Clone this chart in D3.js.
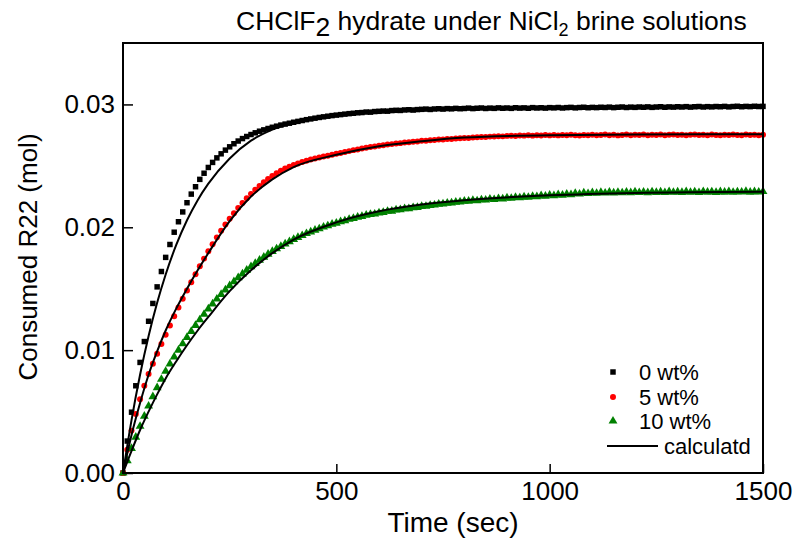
<!DOCTYPE html>
<html>
<head>
<meta charset="utf-8">
<script src="https://cdn.jsdelivr.net/npm/d3@7"></script>
<style>
  body { margin: 0; background: #fff; }
  svg text { font-family: "Liberation Sans", Arial, sans-serif; fill: #000; }
</style>
</head>
<body>
<svg class="chart"></svg>
<script>
var width = 800;
var height = 545;

// measured time (sec)
var time = [
  0, 10, 20, 30, 40, 50, 60, 70, 80, 90,
  100, 110, 120, 130, 140, 150, 160, 170, 180, 190,
  200, 210, 220, 230, 240, 250, 260, 270, 280, 290,
  300, 310, 320, 330, 340, 350, 360, 370, 380, 390,
  400, 410, 420, 430, 440, 450, 460, 470, 480, 490,
  500, 510, 520, 530, 540, 550, 560, 570, 580, 590,
  600, 610, 620, 630, 640, 650, 660, 670, 680, 690,
  700, 710, 720, 730, 740, 750, 760, 770, 780, 790,
  800, 810, 820, 830, 840, 850, 860, 870, 880, 890,
  900, 910, 920, 930, 940, 950, 960, 970, 980, 990,
  1000, 1010, 1020, 1030, 1040, 1050, 1060, 1070, 1080, 1090,
  1100, 1110, 1120, 1130, 1140, 1150, 1160, 1170, 1180, 1190,
  1200, 1210, 1220, 1230, 1240, 1250, 1260, 1270, 1280, 1290,
  1300, 1310, 1320, 1330, 1340, 1350, 1360, 1370, 1380, 1390,
  1400, 1410, 1420, 1430, 1440, 1450, 1460, 1470, 1480, 1490,
  1500
];

// 0 wt%
var wt0 = [
  0.00000, 0.00260, 0.00495, 0.00710, 0.00900, 0.01070, 0.01235, 0.01380, 0.01515, 0.01640,
  0.01755, 0.01860, 0.01960, 0.02045, 0.02125, 0.02200, 0.02270, 0.02330, 0.02390, 0.02440,
  0.02487, 0.02528, 0.02565, 0.02598, 0.02628, 0.02655, 0.02680, 0.02702, 0.02722, 0.02739,
  0.02755, 0.02769, 0.02782, 0.02793, 0.02804, 0.02814, 0.02823, 0.02832, 0.02840, 0.02847,
  0.02855, 0.02862, 0.02869, 0.02876, 0.02882, 0.02888, 0.02894, 0.02899, 0.02904, 0.02909,
  0.02913, 0.02917, 0.02921, 0.02925, 0.02928, 0.02932, 0.02934, 0.02938, 0.02937, 0.02942,
  0.02944, 0.02946, 0.02945, 0.02950, 0.02952, 0.02951, 0.02955, 0.02957, 0.02954, 0.02958,
  0.02960, 0.02962, 0.02959, 0.02963, 0.02965, 0.02962, 0.02966, 0.02964, 0.02968, 0.02965,
  0.02967, 0.02970, 0.02966, 0.02969, 0.02971, 0.02967, 0.02970, 0.02968, 0.02972, 0.02969,
  0.02971, 0.02968, 0.02973, 0.02970, 0.02972, 0.02969, 0.02974, 0.02971, 0.02973, 0.02970,
  0.02974, 0.02972, 0.02975, 0.02971, 0.02974, 0.02976, 0.02972, 0.02975, 0.02977, 0.02973,
  0.02976, 0.02974, 0.02977, 0.02975, 0.02978, 0.02974, 0.02977, 0.02979, 0.02975, 0.02978,
  0.02976, 0.02979, 0.02977, 0.02980, 0.02976, 0.02979, 0.02981, 0.02977, 0.02980, 0.02978,
  0.02981, 0.02979, 0.02982, 0.02978, 0.02981, 0.02983, 0.02979, 0.02982, 0.02980, 0.02983,
  0.02981, 0.02984, 0.02980, 0.02983, 0.02985, 0.02981, 0.02984, 0.02982, 0.02985, 0.02983,
  0.02984
];

// 5 wt%
var wt5 = [
  0.00000, 0.00190, 0.00345, 0.00480, 0.00600, 0.00710, 0.00805, 0.00890, 0.00970, 0.01050,
  0.01125, 0.01200, 0.01275, 0.01347, 0.01418, 0.01486, 0.01552, 0.01618, 0.01682, 0.01745,
  0.01805, 0.01862, 0.01918, 0.01972, 0.02022, 0.02070, 0.02115, 0.02158, 0.02198, 0.02236,
  0.02272, 0.02305, 0.02336, 0.02366, 0.02393, 0.02418, 0.02440, 0.02460, 0.02478, 0.02493,
  0.02507, 0.02519, 0.02531, 0.02541, 0.02551, 0.02560, 0.02568, 0.02576, 0.02583, 0.02590,
  0.02598, 0.02605, 0.02613, 0.02620, 0.02628, 0.02634, 0.02641, 0.02647, 0.02653, 0.02658,
  0.02664, 0.02668, 0.02673, 0.02677, 0.02682, 0.02685, 0.02690, 0.02692, 0.02697, 0.02699,
  0.02704, 0.02705, 0.02709, 0.02711, 0.02714, 0.02715, 0.02719, 0.02719, 0.02723, 0.02724,
  0.02727, 0.02727, 0.02731, 0.02732, 0.02735, 0.02734, 0.02738, 0.02739, 0.02741, 0.02740,
  0.02744, 0.02745, 0.02743, 0.02747, 0.02746, 0.02749, 0.02746, 0.02750, 0.02747, 0.02751,
  0.02748, 0.02751, 0.02748, 0.02752, 0.02749, 0.02753, 0.02750, 0.02747, 0.02752, 0.02750,
  0.02754, 0.02749, 0.02752, 0.02755, 0.02750, 0.02753, 0.02748, 0.02752, 0.02755, 0.02750,
  0.02753, 0.02751, 0.02756, 0.02749, 0.02753, 0.02751, 0.02755, 0.02750, 0.02753, 0.02756,
  0.02751, 0.02754, 0.02749, 0.02753, 0.02756, 0.02751, 0.02754, 0.02750, 0.02755, 0.02752,
  0.02749, 0.02754, 0.02751, 0.02756, 0.02752, 0.02750, 0.02755, 0.02751, 0.02754, 0.02750,
  0.02753
];

// 10 wt%
var wt10 = [
  0.00000, 0.00100, 0.00200, 0.00292, 0.00380, 0.00463, 0.00545, 0.00622, 0.00695, 0.00763,
  0.00828, 0.00888, 0.00945, 0.01000, 0.01052, 0.01103, 0.01153, 0.01201, 0.01247, 0.01292,
  0.01335, 0.01376, 0.01416, 0.01454, 0.01490, 0.01525, 0.01558, 0.01590, 0.01621, 0.01651,
  0.01680, 0.01706, 0.01733, 0.01757, 0.01781, 0.01803, 0.01825, 0.01845, 0.01865, 0.01883,
  0.01901, 0.01918, 0.01933, 0.01949, 0.01962, 0.01977, 0.01988, 0.02002, 0.02012, 0.02025,
  0.02034, 0.02046, 0.02053, 0.02065, 0.02072, 0.02083, 0.02089, 0.02099, 0.02105, 0.02108,
  0.02117, 0.02121, 0.02130, 0.02132, 0.02141, 0.02143, 0.02151, 0.02152, 0.02160, 0.02162,
  0.02170, 0.02171, 0.02178, 0.02181, 0.02188, 0.02191, 0.02197, 0.02198, 0.02205, 0.02207,
  0.02212, 0.02212, 0.02219, 0.02216, 0.02224, 0.02222, 0.02230, 0.02226, 0.02234, 0.02231,
  0.02239, 0.02236, 0.02243, 0.02240, 0.02248, 0.02244, 0.02252, 0.02249, 0.02257, 0.02253,
  0.02261, 0.02258, 0.02266, 0.02262, 0.02270, 0.02266, 0.02276, 0.02271, 0.02280, 0.02275,
  0.02282, 0.02277, 0.02284, 0.02279, 0.02286, 0.02280, 0.02285, 0.02281, 0.02287, 0.02282,
  0.02288, 0.02283, 0.02287, 0.02282, 0.02289, 0.02284, 0.02288, 0.02283, 0.02290, 0.02285,
  0.02288, 0.02284, 0.02290, 0.02285, 0.02289, 0.02283, 0.02291, 0.02286, 0.02289, 0.02284,
  0.02290, 0.02286, 0.02291, 0.02285, 0.02289, 0.02287, 0.02292, 0.02286, 0.02290, 0.02287,
  0.02291
];

// calculated curves
var calcTime = [0, 20, 40, 60, 80, 100, 125, 150, 175, 200, 250, 300, 350, 400, 500, 600, 700, 800, 1000, 1200, 1500];
var calc0 = [0, 0.00431, 0.00800, 0.01115, 0.01385, 0.01616, 0.01858, 0.02057, 0.02221, 0.02355, 0.02560, 0.02705, 0.02795, 0.02853, 0.02920, 0.02953, 0.02967, 0.02974, 0.02979, 0.02980, 0.02980];
var calc5 = [0, 0.00310, 0.00570, 0.00800, 0.00990, 0.01160, 0.01340, 0.01500, 0.01650, 0.01790, 0.02050, 0.02250, 0.02390, 0.02490, 0.02590, 0.02660, 0.02700, 0.02730, 0.02750, 0.02755, 0.02757];
var calc10 = [0, 0.00180, 0.00350, 0.00500, 0.00640, 0.00770, 0.00910, 0.01040, 0.01160, 0.01270, 0.01480, 0.01650, 0.01790, 0.01900, 0.02040, 0.02130, 0.02185, 0.02220, 0.02260, 0.02280, 0.02290];

var xTicks = [0, 500, 1000, 1500];
var yTicks = [0, 0.01, 0.02, 0.03];
var seriesNames = ['0 wt%', '5 wt%', '10 wt%'];
var seriesColors = ['#000000', '#ff0000', '#008000'];

var margin = {'top': 43, 'right': 37, 'bottom': 72, 'left': 123};

var chart = d3.select('.chart')
  .attr('width', width)
  .attr('height', height);

var x = d3.scaleLinear()
  .domain([0, 1500])
  .range([margin.left, width - margin.right]);

var y = d3.scaleLinear()
  .domain([0, 0.035])
  .range([height - margin.bottom, margin.top]);

var shapes = [d3.symbolSquare, d3.symbolCircle, d3.symbolTriangle];
var shapeSize = [30, 28, 34];

// markers, one group per series
var measured = [wt0, wt5, wt10];
measured.forEach(function(vals, s){
  var sym = d3.symbol().type(shapes[s]).size(shapeSize[s]);
  chart.append('g')
    .selectAll('path')
    .data(vals)
    .join('path')
      .attr('d', sym)
      .attr('transform', function(d, i){ return 'translate(' + x(time[i]) + ',' + y(d) + ')'; })
      .attr('fill', seriesColors[s]);
});

// calculated lines
var line = d3.line()
  .x(function(d, i){ return x(calcTime[i]); })
  .y(function(d){ return y(d); })
  .curve(d3.curveMonotoneX);

[calc0, calc5, calc10].forEach(function(vals){
  chart.append('path')
    .datum(vals)
    .attr('d', line)
    .attr('fill', 'none')
    .attr('stroke', '#000')
    .attr('stroke-width', 2);
});

// axes with inward ticks
var xAxis = d3.axisBottom(x)
  .tickValues(xTicks)
  .tickFormat(d3.format('d'))
  .tickSizeInner(-9)
  .tickSizeOuter(0)
  .tickPadding(9);

var yAxis = d3.axisLeft(y)
  .tickValues(yTicks)
  .tickFormat(d3.format('.2f'))
  .tickSizeInner(-10)
  .tickSizeOuter(0)
  .tickPadding(8);

var gx = chart.append('g')
  .attr('transform', 'translate(0,' + (height - margin.bottom) + ')')
  .call(xAxis);
var gy = chart.append('g')
  .attr('transform', 'translate(' + margin.left + ',0)')
  .call(yAxis);

[gx, gy].forEach(function(g){
  g.select('.domain').remove();
  g.selectAll('line').attr('stroke', '#000').attr('stroke-width', 1.5);
  g.selectAll('text').style('font-size', '26px').attr('font-family', null);
});
gy.selectAll('text').attr('x', -8);

// frame
chart.append('rect')
  .attr('x', margin.left)
  .attr('y', margin.top)
  .attr('width', width - margin.left - margin.right)
  .attr('height', height - margin.top - margin.bottom)
  .attr('fill', 'none')
  .attr('stroke', '#000')
  .attr('stroke-width', 2);

// axis titles
chart.append('text')
  .attr('x', 453)
  .attr('y', 532)
  .attr('text-anchor', 'middle')
  .style('font-size', '28px')
  .text('Time (sec)');

chart.append('text')
  .attr('transform', 'translate(37,257) rotate(-90)')
  .attr('text-anchor', 'middle')
  .style('font-size', '26px')
  .text('Consumed R22 (mol)');

// title
var title = chart.append('text')
  .attr('x', 236)
  .attr('y', 30)
  .style('font-size', '26.5px');
title.append('tspan').text('CHClF');
title.append('tspan').attr('dy', 6).text('2');
title.append('tspan').attr('dy', -6).text(' hydrate under NiCl');
title.append('tspan').attr('dy', 6).style('font-size', '18px').text('2');
title.append('tspan').attr('dy', -6).text(' brine solutions');

// legend
var legendRows = [372, 397, 421];
seriesNames.forEach(function(name, s){
  chart.append('path')
    .attr('d', d3.symbol().type(shapes[s]).size(shapeSize[s]))
    .attr('transform', 'translate(613,' + legendRows[s] + ')')
    .attr('fill', seriesColors[s]);
  chart.append('text')
    .attr('x', 639)
    .attr('y', legendRows[s])
    .attr('dy', '0.36em')
    .style('font-size', '22px')
    .text(name);
});
chart.append('line')
  .attr('x1', 607).attr('x2', 658)
  .attr('y1', 446).attr('y2', 446)
  .attr('stroke', '#000')
  .attr('stroke-width', 2);
chart.append('text')
  .attr('x', 664)
  .attr('y', 446)
  .attr('dy', '0.36em')
  .style('font-size', '22px')
  .text('calculatd');
</script>
</body>
</html>
